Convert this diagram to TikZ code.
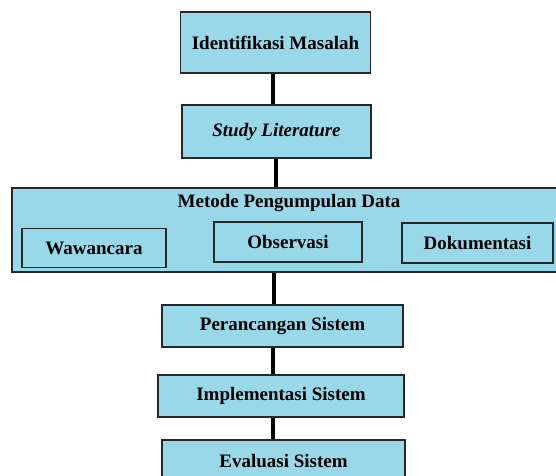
\documentclass[tikz,border=0pt]{standalone}
\usepackage{fontspec}
\setmainfont{Liberation Serif}
\usetikzlibrary{shapes,arrows}
\definecolor{stagefill}{RGB}{152,216,233}
\definecolor{stageline}{RGB}{40,40,40}
\tikzstyle{stagebox}=[rectangle, draw=stageline, line width=1.4pt, fill=stagefill, inner sep=0pt, font=\fontsize{19}{22}\selectfont\bfseries]
\tikzstyle{methodbox}=[rectangle, draw=stageline, line width=1.4pt, fill=stagefill, inner sep=0pt, font=\fontsize{19}{22}\selectfont\bfseries]
\tikzstyle{flowline}=[line width=4pt, black]
\newcommand{\stage}[5]{
	\node[stagebox, minimum width=#3pt, minimum height=#4pt] (#1) at (#2) {#5};}
\newcommand{\method}[5]{
	\node[methodbox, minimum width=#3pt, minimum height=#4pt] (#1) at (#2) {#5};}

\begin{document}
\begin{tikzpicture}[x=1pt, y=-1pt]
	\useasboundingbox (0,0) rectangle (556,475);
	\begin{scope}
	\clip (0,0) rectangle (556,475);
	\stage{identifikasi}{275.5,42.5}{190}{61}{Identifikasi Masalah}
	\stage{study}{276.5,131.5}{189}{53}{\textit{Study Literature}}
	
	\stage{metode}{286,230}{548}{84}{}
	\node[font=\fontsize{19}{22}\selectfont\bfseries] (metodetitle) at (289,203) {Metode Pengumpulan Data};
	\method{wawancara}{94,248}{144}{39}{Wawancara}
	\method{observasi}{288,242}{148}{40}{Observasi}
	\method{dokumentasi}{477.5,243}{151}{40}{Dokumentasi}
	
	\stage{perancangan}{282.5,326}{241}{42}{Perancangan Sistem}
	\stage{implementasi}{281,396}{246}{42}{Implementasi Sistem}
	\stage{evaluasi}{283.5,465}{243}{50}{\raisebox{8pt}{Evaluasi Sistem}}
	
	\draw[flowline] (identifikasi.south -| 273,0) -- (study.north -| 273,0);
	\draw[flowline] (study.south -| 276,0) -- (metode.north -| 276,0);
	\draw[flowline] (metode.south -| 274,0) -- (perancangan.north -| 274,0);
	\draw[flowline] (perancangan.south -| 273,0) -- (implementasi.north -| 273,0);
	\draw[flowline] (implementasi.south -| 273,0) -- (evaluasi.north -| 273,0);
	\end{scope}
\end{tikzpicture}
\end{document}
